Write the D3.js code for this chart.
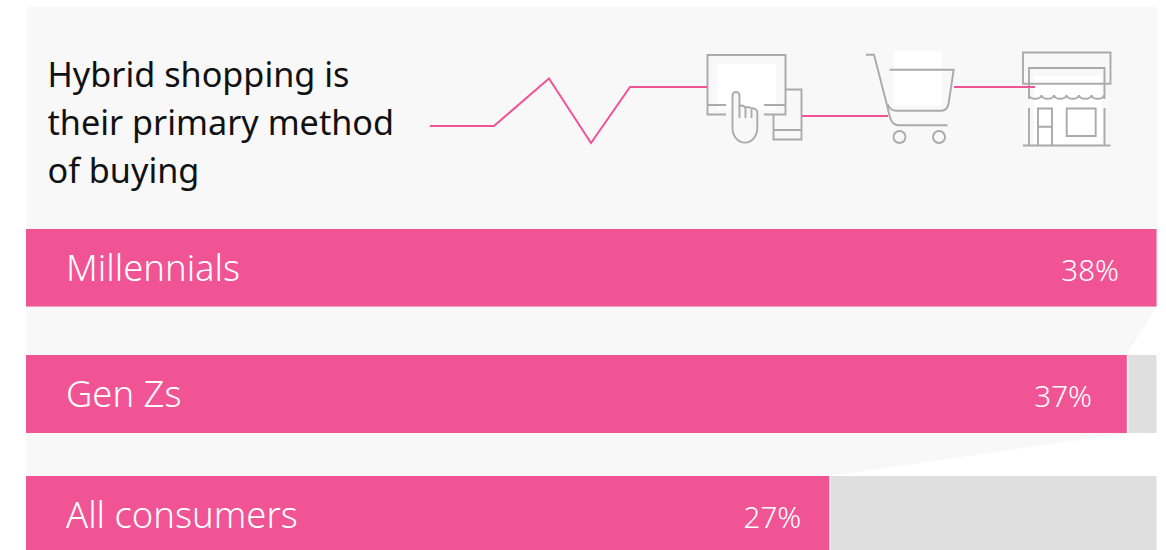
<!DOCTYPE html>
<html>
<head>
<meta charset="utf-8">
<script src="https://cdn.jsdelivr.net/npm/d3@7/dist/d3.min.js"></script>
<style>
  html, body { margin: 0; padding: 0; background: #fff; }
  svg { display: block; }
  text { font-family: "Noto Sans", sans-serif; }
</style>
</head>
<body>
<svg id="chart" width="1166" height="550"></svg>
<script>
// Share of each generation whose primary method of buying is hybrid shopping
const groups = ["Millennials", "Gen Zs", "All consumers"];
const shares = [38, 37, 27];
const shareLabels = ["38%", "37%", "27%"];
const titleLines = ["Hybrid shopping is", "their primary method", "of buying"];

const PINK = "#f05494";
const TRACK = "#dfdfdf";
const PANEL = "#f8f8f8";
const ICON = "#aaaaaa";

const svg = d3.select("#chart");

// Bars share a common origin; the largest group spans the full track
const x = d3.scaleLinear().domain([0, 38]).range([26, 1156.5]);

// Row tops and heights: the rows are unevenly spaced, so this is a point lookup
const rowTop = d3.scaleOrdinal().domain(groups).range([229, 355, 476]);
const rowHeight = d3.scaleOrdinal().domain(groups).range([77.5, 78, 80]);
const valueInset = d3.scaleOrdinal().domain(groups).range([37.5, 34.75, 28]);

// Header panel
svg.append("rect")
  .attr("x", 27).attr("y", 7).attr("width", 1130.5).attr("height", 222)
  .attr("fill", PANEL);

// Funnels joining each bar's end to the next bar's end
d3.pairs(groups.map((g, i) => ({ g, v: shares[i] }))).forEach(([a, b]) => {
  const y0 = rowTop(a.g) + rowHeight(a.g);
  const y1 = rowTop(b.g);
  svg.append("path")
    .attr("d", d3.line()([[x(0), y0], [x(a.v), y0], [x(b.v), y1], [x(0), y1]]) + "Z")
    .attr("fill", PANEL);
});

// Grey tracks, pink bars
const rows = svg.selectAll("g.row")
  .data(groups.map((g, i) => ({ g, v: shares[i], label: shareLabels[i] })))
  .join("g").attr("class", "row");

rows.append("rect")
  .attr("x", x(0)).attr("y", d => rowTop(d.g))
  .attr("width", x.range()[1] - x(0)).attr("height", d => rowHeight(d.g))
  .attr("fill", TRACK);

rows.append("rect")
  .attr("x", d => x(d.v)).attr("y", d => rowTop(d.g))
  .attr("width", 1.5).attr("height", d => rowHeight(d.g))
  .attr("fill", "#f4f4f4");

rows.append("rect")
  .attr("x", x(0)).attr("y", d => rowTop(d.g))
  .attr("width", d => x(d.v) - x(0)).attr("height", d => rowHeight(d.g))
  .attr("fill", PINK);

rows.append("text")
  .attr("x", 66).attr("y", d => rowTop(d.g) + 52)
  .attr("font-size", 36.4).attr("font-weight", 300).attr("fill", "#fff")
  .text(d => d.g);

rows.append("text")
  .attr("x", d => x(d.v) - valueInset(d.g)).attr("y", d => rowTop(d.g) + 52)
  .attr("text-anchor", "end")
  .attr("font-size", 29.5).attr("font-weight", 300).attr("fill", "#fff")
  .text(d => d.label);

// Title block
svg.append("g").selectAll("text")
  .data(titleLines)
  .join("text")
  .attr("x", 47.5).attr("y", (d, i) => 87 + i * 48)
  .attr("font-size", 34.2).attr("fill", "#111")
  .text(d => d);

// Customer-journey line running through the three icons
const journey = d3.line();
const whiteBlocks = svg.append("g").attr("fill", "#fff");
whiteBlocks.append("rect").attr("x", 717.5).attr("y", 64).attr("width", 58.5).attr("height", 46);
whiteBlocks.append("rect").attr("x", 894).attr("y", 51).attr("width", 48).attr("height", 55);
whiteBlocks.append("rect").attr("x", 1034).attr("y", 76).attr("width", 68).attr("height", 68);

const icons = svg.append("g")
  .attr("fill", "none").attr("stroke", ICON).attr("stroke-width", 1.9);

// Tablet, phone and pointing hand
icons.append("path").attr("d",
  "M726,114.5H707.5V55H785.5V114.5H764" +
  "M707.5,105H726M764,105H785.5" +
  "M785.5,89.5H801.5V139.5H773.5V114.5M773.5,130H801.5");
icons.append("path").attr("fill", PANEL).attr("d",
  "M732.5,128V95.5a3.5,3.5 0 0 1 7,0V106" +
  "q3,-1.5 6,1.5q3,-1.5 6,1q3,-1 5.8,2.5V128a12.4,14.7 0 0 1 -24.8,0Z");
icons.append("path").attr("d", "M739.5,106V118M745.5,107.5V118M751.5,109.5V118");

// Shopping cart
icons.append("path").attr("d",
  "M866,54.7H874L887.5,107C890,120 892,125.3 899,125.3H947.5" +
  "M889.5,69.7H953.7L948.5,104C947.5,109 945,110.7 941,110.7H896C891.5,110.7 889,108 887.5,104");
icons.append("circle").attr("cx", 899.5).attr("cy", 137).attr("r", 6);
icons.append("circle").attr("cx", 939).attr("cy", 137).attr("r", 6);

// Storefront with scalloped awning
icons.append("path").attr("d",
  "M1023,52.5H1110.5V83.7H1023Z" +
  "M1029,99V68H1104.5V99" +
  "M1029,95a6.25,3.8 0 0 0 12.5,0a6.25,3.8 0 0 0 12.5,0a6.25,3.8 0 0 0 12.5,0" +
  "a6.25,3.8 0 0 0 12.5,0a6.25,3.8 0 0 0 12.5,0a6.25,3.8 0 0 0 12.5,0" +
  "M1029,108V145.5M1104.5,108V145.5M1023,145.5H1110.5" +
  "M1038,145.5V108.5H1052V145.5M1038,126.7H1052" +
  "M1066.7,108.5H1095.7V136H1066.7Z");

// Pink segments drawn last so they sit on top of the icons
const segments = [
  [[430, 126], [494, 126], [549, 78.5], [591, 143], [630, 87], [707, 87]],
  [[802, 116], [888, 116]],
  [[954, 87], [1035, 87]]
];
svg.append("g").selectAll("path")
  .data(segments)
  .join("path")
  .attr("d", journey)
  .attr("fill", "none").attr("stroke", PINK).attr("stroke-width", 2);
</script>
</body>
</html>
